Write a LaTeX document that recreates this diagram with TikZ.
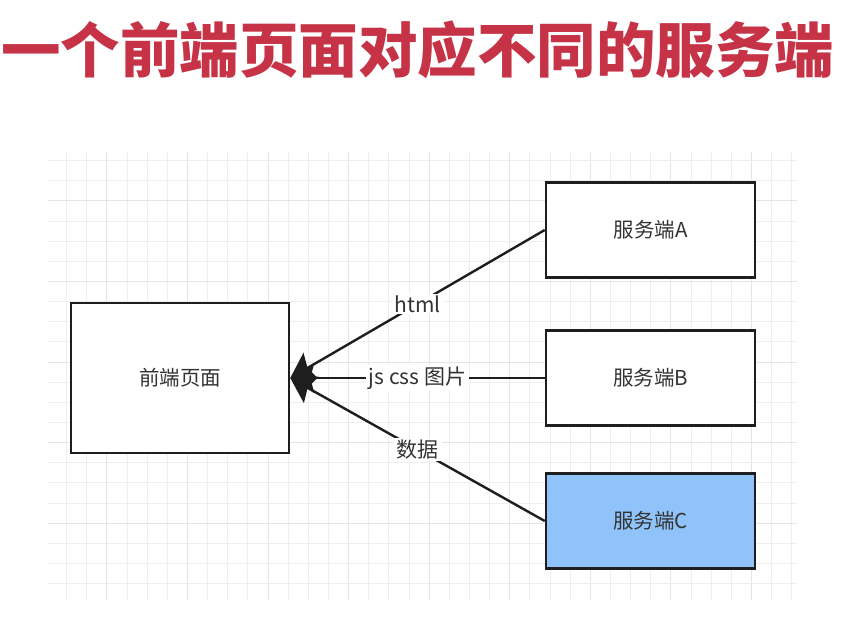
\documentclass[tikz,border=0pt]{standalone}
\usepackage{fontspec}
\setmainfont{Noto Sans CJK SC}
\newfontfamily\cjk{Noto Sans CJK SC}
\usetikzlibrary{arrows.meta}
\definecolor{titlered}{RGB}{198,50,70}
\definecolor{boxblue}{RGB}{144,195,249}
\definecolor{ink}{RGB}{30,30,30}
\definecolor{txt}{RGB}{51,51,51}
\definecolor{gridminor}{RGB}{238,238,238}
\definecolor{gridmajor}{RGB}{229,229,229}
\tikzset{
  boxnode/.style={draw=ink, line width=2.5pt, fill=white, minimum width=209pt, minimum height=95pt, inner sep=0pt, font=\cjk\fontsize{20.5}{24}\selectfont, text=txt},
  conn/.style={draw=ink, line width=2.4pt, -{Stealth[length=24pt,width=30pt,inset=4pt]}},
  lbl/.style={fill=white, inner xsep=3pt, inner ysep=2pt, font=\cjk\fontsize{21}{24}\selectfont, text=txt},
}
\begin{document}
\begin{tikzpicture}[x=1pt,y=-1pt]
\useasboundingbox (0,0) rectangle (848,626);
\fill[white] (0,0) rectangle (848,626);
% grid
\foreach \k in {0,...,36} {
  \pgfmathsetmacro{\xx}{66.7+20.14*\k}
  \pgfmathtruncatemacro{\m}{mod(\k+2,4)}
  \ifnum\m=0
    \draw[gridmajor, line width=1pt] (\xx,152) -- (\xx,600);
  \else
    \draw[gridminor, line width=1pt] (\xx,152) -- (\xx,600);
  \fi
}
\foreach \k in {0,...,21} {
  \pgfmathsetmacro{\yy}{160.7+20.14*\k}
  \pgfmathtruncatemacro{\m}{mod(\k+2,4)}
  \ifnum\m=0
    \draw[gridmajor, line width=1pt] (48,\yy) -- (797,\yy);
  \else
    \draw[gridminor, line width=1pt] (48,\yy) -- (797,\yy);
  \fi
}
% title
\node[anchor=base west, inner sep=0pt, text=titlered, font=\cjk\bfseries\fontsize{59.5}{60}\selectfont] (title) at (1,72) {一个前端页面对应不同的服务端};
% boxes
\node[boxnode, minimum width=218pt, minimum height=150pt] (F) at (180,378) {前端页面};
\node[boxnode] (A) at (650.5,230) {服务端A};
\node[boxnode] (B) at (650.5,378) {服务端B};
\node[boxnode, fill=boxblue] (C) at (650.5,521) {服务端C};
% connectors
\draw[conn] (A.west) -- (F.east) node[midway, lbl] {html};
\draw[conn] (B.west) -- (F.east) node[midway, lbl] {js css 图片};
\draw[conn] (C.west) -- (F.east) node[midway, lbl] {数据};
\end{tikzpicture}
\end{document}
